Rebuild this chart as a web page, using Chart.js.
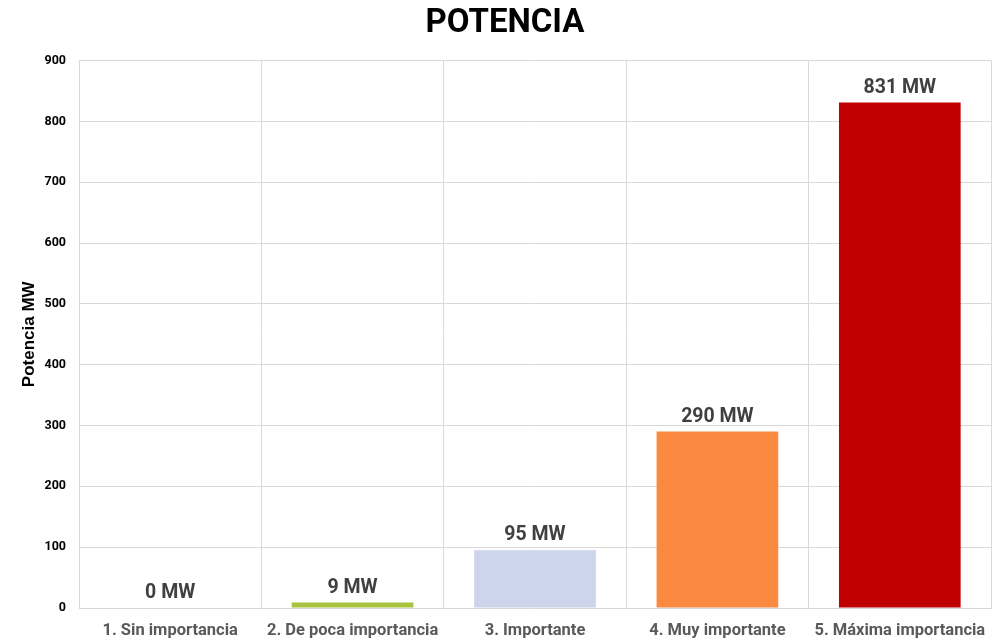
<!DOCTYPE html>
<html>
<head>
<meta charset="utf-8">
<script src="https://cdn.jsdelivr.net/npm/chart.js@4"></script>
<style>
  html, body { margin: 0; padding: 0; background: #fff; }
  #wrap { width: 1001px; height: 640px; }
</style>
</head>
<body>
<div id="wrap"><canvas id="potChart"></canvas></div>
<script>
// --- DATA ---
const categories = ["1. Sin importancia", "2. De poca importancia", "3. Importante", "4. Muy importante", "5. Máxima importancia"];
const potenciaMW = [0, 9, 95, 290, 831];
const barColors = ["#a9c23f", "#a9c23f", "#cdd5ec", "#fb8a40", "#c00000"];
const unitLabel = " MW";

// draws "xxx MW" above each bar
const valueLabels = {
    id: "valueLabels",
    afterDatasetsDraw(chart) {
        const ctx = chart.ctx;
        const meta = chart.getDatasetMeta(0);
        ctx.save();
        ctx.font = "bold 19.5px Roboto";
        ctx.fillStyle = "#404040";
        ctx.textAlign = "center";
        ctx.textBaseline = "bottom";
        meta.data.forEach((bar, i) => {
            ctx.fillText(potenciaMW[i] + unitLabel, bar.x, bar.y - 5);
        });
        ctx.restore();
    }
};

const ctx = document.getElementById("potChart").getContext("2d");
new Chart(ctx, {
    type: "bar",
    data: {
        labels: categories,
        datasets: [{
            data: potenciaMW,
            backgroundColor: barColors,
            barPercentage: 0.667,
            categoryPercentage: 1.0
        }]
    },
    options: {
        responsive: true,
        maintainAspectRatio: false,
        animation: false,
        layout: { padding: { left: 19, right: 10, top: 0, bottom: 0 } },
        scales: {
            x: {
                afterFit(scale) { scale.height = 32; },
                grid: { color: "#d9d9d9", offset: true, drawTicks: false },
                border: { color: "#d9d9d9" },
                ticks: { color: "#595959", font: { family: "Roboto", size: 16.5, weight: "bold" }, padding: 13, maxRotation: 0 }
            },
            y: {
                min: 0,
                max: 900,
                afterFit(scale) { scale.width = 60; },
                grid: { color: "#d9d9d9", drawTicks: false },
                border: { color: "#d9d9d9" },
                ticks: { stepSize: 100, color: "#000", font: { family: "Roboto", size: 12.5, weight: "bold" }, padding: 13 },
                title: { display: true, text: "Potencia MW", color: "#000", font: { family: "Liberation Sans", size: 17, weight: "bold" }, padding: { top: 0, bottom: 0 } }
            }
        },
        plugins: {
            legend: { display: false },
            tooltip: { enabled: false },
            title: {
                display: true,
                text: "POTENCIA",
                color: "#000",
                font: { family: "Roboto", size: 33, weight: "bold" },
                padding: { top: 4, bottom: 17 }
            }
        }
    },
    plugins: [valueLabels]
});
</script>
</body>
</html>
